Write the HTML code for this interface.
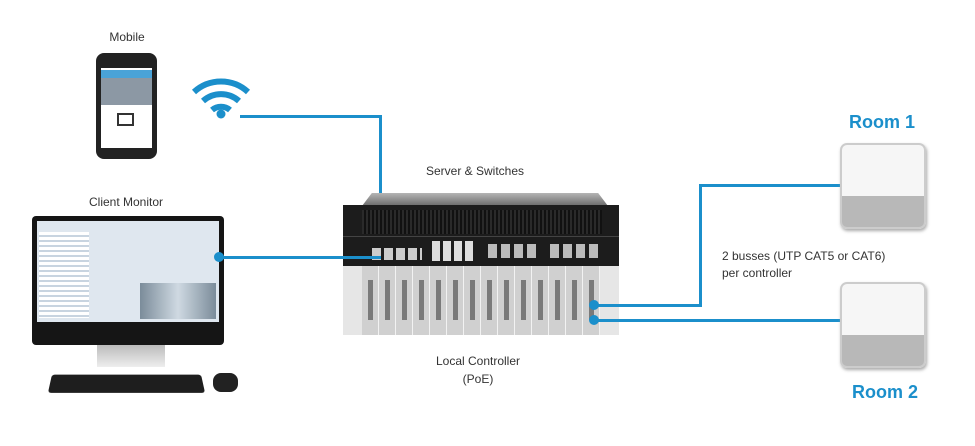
<!DOCTYPE html>
<html><head><meta charset="utf-8"><style>
body{margin:0;width:975px;height:446px;background:#fff;position:relative;overflow:hidden;font-family:"Liberation Sans",sans-serif;color:#333}
.a{position:absolute}
.t{position:absolute;font-size:12px;white-space:nowrap;transform:translateX(-50%)}
.ln{position:absolute;background:#1b8fcb}
.dot{position:absolute;width:10px;height:10px;border-radius:50%;background:#1b8fcb}
.room{position:absolute;font-size:18px;font-weight:bold;color:#1b8fcb;transform:translateX(-50%)}
.dev{position:absolute;width:86px;height:86px;border-radius:7px;background:linear-gradient(#f6f6f6 0 62%,#b8b8b8 62% 100%);border:2px solid #ccc;box-shadow:1px 2px 3px #aaa;box-sizing:border-box}
</style></head><body>
<div class="t" style="left:127px;top:30px">Mobile</div>
<div class="a" style="left:96px;top:53px;width:61px;height:106px;background:#222;border-radius:8px"></div>
<div class="a" style="left:101px;top:68px;width:51px;height:80px;background:#fff"></div>
<div class="a" style="left:101px;top:70px;width:51px;height:8px;background:#4aa3d8"></div>
<div class="a" style="left:101px;top:78px;width:51px;height:27px;background:#8c98a4"></div>
<div class="a" style="left:117px;top:113px;width:17px;height:13px;border:2px solid #333;box-sizing:border-box;background:#fff"></div>
<svg class="a" style="left:185px;top:65px" width="75" height="60">
<g fill="none" stroke="#1b8fcb" stroke-width="6" stroke-linecap="butt">
<path d="M9 27 A40 40 0 0 1 63 27"/><path d="M18 36 A27 27 0 0 1 54 36"/><path d="M27 45 A14 14 0 0 1 45 45"/></g>
<circle cx="36" cy="49" r="4.5" fill="#1b8fcb"/></svg>
<div class="ln" style="left:240px;top:115px;width:142px;height:3px"></div>
<div class="ln" style="left:379px;top:115px;width:3px;height:143px"></div>
<div class="t" style="left:475px;top:164px">Server &amp; Switches</div>
<div class="a" style="left:362px;top:193px;width:246px;height:13px;background:linear-gradient(#b5b5b5,#6a6a6a);clip-path:polygon(4% 0,96% 0,100% 100%,0 100%)"></div>
<div class="a" style="left:343px;top:205px;width:276px;height:61px;background:#1c1c1c"></div>
<div class="a" style="left:362px;top:210px;width:240px;height:24px;background:repeating-linear-gradient(90deg,#2a2a2a 0 2px,#111 2px 4px)"></div>
<div class="a" style="left:343px;top:236px;width:276px;height:1px;background:#444"></div>
<div class="a" style="left:432px;top:241px;width:42px;height:20px;background:repeating-linear-gradient(90deg,#ddd 0 8px,#1c1c1c 8px 11px)"></div>
<div class="a" style="left:488px;top:244px;width:52px;height:14px;background:repeating-linear-gradient(90deg,#bbb 0 9px,#1c1c1c 9px 13px)"></div>
<div class="a" style="left:550px;top:244px;width:52px;height:14px;background:repeating-linear-gradient(90deg,#bbb 0 9px,#1c1c1c 9px 13px)"></div>
<div class="a" style="left:372px;top:248px;width:50px;height:12px;background:repeating-linear-gradient(90deg,#ccc 0 9px,#1c1c1c 9px 12px)"></div>
<div class="a" style="left:343px;top:266px;width:276px;height:69px;background:#e6e6e6"></div>
<div class="a" style="left:362px;top:266px;width:238px;height:69px;background:repeating-linear-gradient(90deg,#d0d0d0 0 16px,#f2f2f2 16px 17px);"></div>
<div class="a" style="left:362px;top:280px;width:238px;height:40px;background:repeating-linear-gradient(90deg,transparent 0 6px,#333 6px 11px,transparent 11px 17px);opacity:.55"></div>
<div class="dot" style="left:589px;top:300px"></div>
<div class="dot" style="left:589px;top:315px"></div>
<div class="ln" style="left:594px;top:304px;width:108px;height:3px"></div>
<div class="ln" style="left:699px;top:184px;width:3px;height:123px"></div>
<div class="ln" style="left:699px;top:184px;width:142px;height:3px"></div>
<div class="ln" style="left:594px;top:319px;width:248px;height:3px"></div>
<div class="t" style="left:478px;top:354px">Local Controller</div>
<div class="t" style="left:478px;top:372px">(PoE)</div>
<div class="t" style="left:126px;top:195px">Client Monitor</div>
<div class="a" style="left:32px;top:216px;width:192px;height:129px;background:#151515;border-radius:4px"></div>
<div class="a" style="left:37px;top:221px;width:182px;height:101px;background:#dfe7ef"></div>
<div class="a" style="left:39px;top:232px;width:50px;height:86px;background:repeating-linear-gradient(#fff 0 3px,#c8d4e0 3px 5px)"></div>
<div class="a" style="left:140px;top:283px;width:76px;height:36px;background:linear-gradient(90deg,#7b8c9a,#cfd9e2,#7b8c9a)"></div>
<div class="a" style="left:97px;top:345px;width:68px;height:22px;background:linear-gradient(#bbb,#eee)"></div>
<div class="a" style="left:50px;top:373px;width:153px;height:21px;background:#1e1e1e;border-radius:3px;transform:perspective(200px) rotateX(30deg)"></div>
<div class="a" style="left:213px;top:373px;width:25px;height:19px;background:#222;border-radius:8px"></div>
<div class="dot" style="left:214px;top:252px"></div>
<div class="ln" style="left:219px;top:256px;width:162px;height:3px"></div>
<div class="room" style="left:882px;top:112px">Room 1</div>
<div class="dev" style="left:840px;top:143px"></div>
<div class="dev" style="left:840px;top:282px"></div>
<div class="room" style="left:885px;top:382px">Room 2</div>
<div class="a" style="left:722px;top:249px;font-size:12px">2 busses (UTP CAT5 or CAT6)</div>
<div class="a" style="left:722px;top:266px;font-size:12px">per controller</div>
</body></html>
